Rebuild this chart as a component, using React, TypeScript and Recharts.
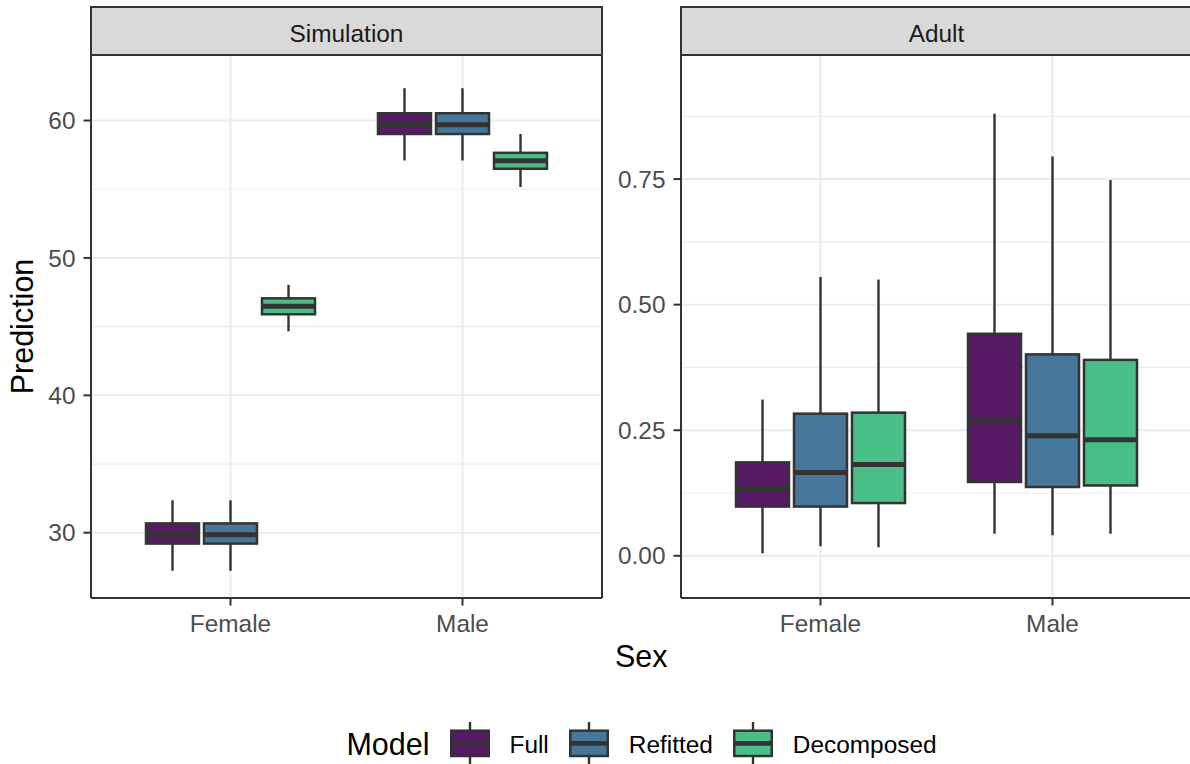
import React from 'react';
import { ComposedChart, Bar, XAxis, YAxis, CartesianGrid, Label } from 'recharts';

const FONT = '"Liberation Sans", Arial, Helvetica, sans-serif';

const sexes = ['Female', 'Male'];
const models = ['Full', 'Refitted', 'Decomposed'];
const modelKeys = ['full', 'refitted', 'decomposed'];
const modelColors = ['#571A65', '#46779A', '#49BE86'];

// box stats per sex: [min, q1, median, q3, max] for Female, Male
const simFull = [
  [27.23, 29.21, 29.86, 30.68, 32.36],
  [57.1, 59.02, 59.71, 60.53, 62.35],
];
const simRefitted = [
  [27.23, 29.21, 29.86, 30.68, 32.36],
  [57.1, 59.02, 59.7, 60.53, 62.35],
];
const simDecomposed = [
  [44.66, 45.9, 46.49, 47.06, 48.04],
  [55.16, 56.49, 57.08, 57.65, 59.02],
];

const adultFull = [
  [0.005, 0.098, 0.134, 0.186, 0.311],
  [0.044, 0.147, 0.269, 0.442, 0.88],
];
const adultRefitted = [
  [0.019, 0.098, 0.166, 0.283, 0.555],
  [0.041, 0.137, 0.239, 0.401, 0.795],
];
const adultDecomposed = [
  [0.017, 0.105, 0.182, 0.285, 0.55],
  [0.044, 0.14, 0.231, 0.39, 0.748],
];

const simTicks = [30, 40, 50, 60];
const simMinorTicks = [35, 45, 55];
const simDomain = [25.25, 64.77];
const adultTicks = [0, 0.25, 0.5, 0.75];
const adultMinorTicks = [0.125, 0.375, 0.625, 0.875];
const adultDomain = [-0.084, 0.997];

const buildRows = (full: number[][], refitted: number[][], decomposed: number[][]) =>
  sexes.map((sex, i) => ({ sex, full: full[i], refitted: refitted[i], decomposed: decomposed[i] }));

const simRows = buildRows(simFull, simRefitted, simDecomposed);
const adultRows = buildRows(adultFull, adultRefitted, adultDecomposed);

const DARK = '#333333';

const BoxShape = (props: any) => {
  const { x, y, width, height, payload, statsKey, color } = props;
  const s = payload[statsKey];
  if (!s) return null;
  const [mn, q1, med, q3, mx] = s;
  const top = Math.min(y, y + height);
  const h = Math.abs(height);
  const k = h / (q3 - q1);
  const py = (v: number) => top + (q3 - v) * k;
  const cx = x + width / 2;
  return (
    <g>
      <line x1={cx} x2={cx} y1={py(mx)} y2={py(q3)} stroke={DARK} strokeWidth={2.4} />
      <line x1={cx} x2={cx} y1={py(q1)} y2={py(mn)} stroke={DARK} strokeWidth={2.4} />
      <rect x={x + 0.5} y={top} width={width - 1} height={h} fill={color} stroke={DARK} strokeWidth={2.5} />
      <line x1={x + 0.5} x2={x + width - 0.5} y1={py(med)} y2={py(med)} stroke={DARK} strokeWidth={5} />
    </g>
  );
};

const tickStyle = { fill: '#4D4D4D', fontSize: 24.4, fontFamily: FONT };
const lineStyle = { stroke: DARK, strokeWidth: 2 };

const StripContent = (title: string) => (p: any) => {
  const vb = p.viewBox;
  return (
    <g>
      <rect x={vb.x} y={vb.y} width={vb.width} height={vb.height} fill="#D9D9D9" stroke={DARK} strokeWidth={2} />
      <text
        x={vb.x + vb.width / 2}
        y={vb.y + vb.height / 2 + 10.5}
        textAnchor="middle"
        fontSize={24.4}
        fontFamily={FONT}
        fill="#1A1A1A"
      >
        {title}
      </text>
    </g>
  );
};

const YTitle = (p: any) => {
  const vb = p.viewBox;
  return (
    <text
      transform={`translate(${vb.x + 33}, ${vb.y + vb.height / 2}) rotate(-90)`}
      textAnchor="middle"
      fontSize={30.5}
      fontFamily={FONT}
      fill="#000000"
    >
      Prediction
    </text>
  );
};

type PanelProps = {
  title: string;
  rows: any[];
  domain: number[];
  ticks: number[];
  minorTicks: number[];
  fmt: (v: number) => string;
  width: number;
  marginRight: number;
  yTitle: boolean;
};

const Panel = ({ title, rows, domain, ticks, minorTicks, fmt, width, marginRight, yTitle }: PanelProps) => (
  <ComposedChart
    width={width}
    height={700}
    data={rows}
    margin={{ top: 7, right: marginRight, bottom: 52, left: 0 }}
    barSize={54}
    barGap={4}
  >
    <CartesianGrid stroke="#EBEBEB" strokeWidth={1.2} vertical={false} horizontalValues={minorTicks} />
    <CartesianGrid stroke="#EBEBEB" strokeWidth={2} />
    <XAxis
      dataKey="sex"
      type="category"
      padding={{ left: 23.5, right: 23.5 }}
      height={50}
      tickSize={7.5}
      tickMargin={9}
      tick={tickStyle}
      axisLine={lineStyle}
      tickLine={lineStyle}
      interval={0}
    />
    <XAxis
      xAxisId="strip"
      orientation="top"
      dataKey="sex"
      type="category"
      height={48}
      tick={false}
      tickLine={false}
      axisLine={lineStyle}
      label={<Label content={StripContent(title)} />}
    />
    <YAxis
      type="number"
      domain={domain}
      ticks={ticks}
      allowDataOverflow
      interval={0}
      width={91}
      tickSize={7.5}
      tickMargin={8}
      tick={tickStyle}
      tickFormatter={fmt}
      axisLine={lineStyle}
      tickLine={lineStyle}
      label={yTitle ? <Label content={YTitle} /> : undefined}
    />
    <YAxis
      yAxisId="right"
      orientation="right"
      type="number"
      domain={domain}
      allowDataOverflow
      width={1}
      tick={false}
      tickLine={false}
      axisLine={lineStyle}
    />
    {modelKeys.map((key, i) => (
      <Bar
        key={key}
        dataKey={(row: any) => [row[key][1], row[key][3]]}
        name={models[i]}
        fill={modelColors[i]}
        barSize={54}
        isAnimationActive={false}
        shape={(p: any) => <BoxShape {...p} statsKey={key} color={modelColors[i]} />}
      />
    ))}
  </ComposedChart>
);

const LegendKey = ({ color }: { color: string }) => (
  <svg width={40} height={42} style={{ display: 'block' }}>
    <line x1={20} x2={20} y1={0} y2={42} stroke={DARK} strokeWidth={2.4} />
    <rect x={1.25} y={8.7} width={37.5} height={25.3} fill={color} stroke={DARK} strokeWidth={2.5} />
    <line x1={1.25} x2={38.75} y1={21.35} y2={21.35} stroke={DARK} strokeWidth={4.6} />
  </svg>
);

export default function App() {
  return (
    <div
      style={{
        position: 'absolute',
        left: 0,
        top: 0,
        width: 1190,
        height: 764,
        overflow: 'hidden',
        background: '#ffffff',
        fontFamily: FONT,
      }}
    >
      <div style={{ position: 'absolute', left: 0, top: 0 }}>
        <Panel
          title="Simulation"
          rows={simRows}
          domain={simDomain}
          ticks={simTicks}
          minorTicks={simMinorTicks}
          fmt={(v: number) => String(v)}
          width={620}
          marginRight={17}
          yTitle
        />
      </div>
      <div style={{ position: 'absolute', left: 590, top: 0 }}>
        <Panel
          title="Adult"
          rows={adultRows}
          domain={adultDomain}
          ticks={adultTicks}
          minorTicks={adultMinorTicks}
          fmt={(v: number) => v.toFixed(2)}
          width={603}
          marginRight={0}
          yTitle={false}
        />
      </div>
      <svg
        width={1190}
        height={764}
        style={{ position: 'absolute', left: 0, top: 0, pointerEvents: 'none' }}
      >
        <text x={641.3} y={666.7} textAnchor="middle" fontSize={30.5} fontFamily={FONT} fill="#000000">
          Sex
        </text>
      </svg>
      <div
        style={{
          position: 'absolute',
          left: 91,
          top: 722,
          width: 1101,
          height: 42,
          display: 'flex',
          alignItems: 'center',
          justifyContent: 'center',
        }}
      >
        <span style={{ fontSize: 30.5, color: '#000', position: 'relative', top: 1.5, whiteSpace: 'nowrap' }}>
          Model
        </span>
        {models.map((m, i) => (
          <React.Fragment key={m}>
            <div style={{ marginLeft: 20.5 }}>
              <LegendKey color={modelColors[i]} />
            </div>
            <span
              style={{
                marginLeft: 19.5,
                fontSize: 24.4,
                color: '#000',
                position: 'relative',
                top: 2,
                whiteSpace: 'nowrap',
              }}
            >
              {m}
            </span>
          </React.Fragment>
        ))}
      </div>
    </div>
  );
}
